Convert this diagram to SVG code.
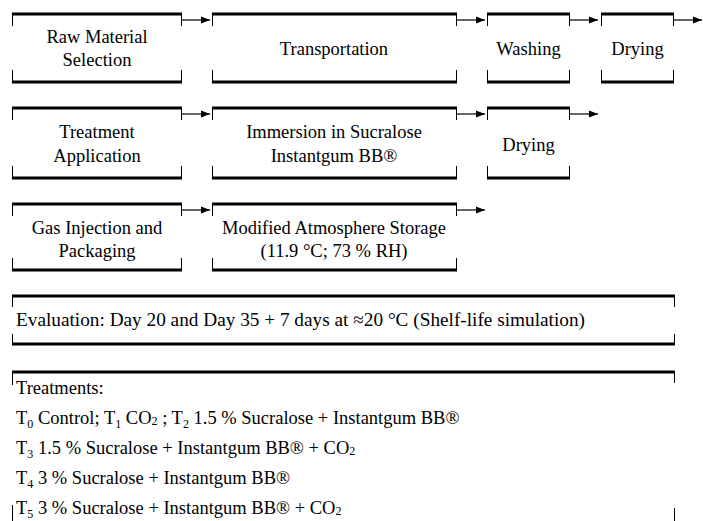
<svg xmlns="http://www.w3.org/2000/svg" width="703" height="521" viewBox="0 0 703 521">
<style>
.bg{fill:#fff}
.thick{stroke:#000;stroke-width:3;fill:none}
.tick{stroke:#000;stroke-width:1;fill:none}
.conn{stroke:#000;stroke-width:1.2;fill:none;marker-end:url(#ah)}
.t{font-family:'Liberation Serif','Times New Roman',serif;font-size:18.5px;fill:#000}
.c{text-anchor:middle}
.s{font-size:12px}
</style>
<defs>
<marker id="ah" markerUnits="userSpaceOnUse" markerWidth="9" markerHeight="8" refX="9" refY="4" orient="auto">
<path d="M0,0.5 L9,4 L0,7.5 z" fill="#000"/>
</marker>
</defs>
<rect class="bg" x="0" y="0" width="703" height="521"/>
<g id="n1">
<path class="thick" d="M12,14 H182 M12,82 H182"/>
<path class="tick" d="M12.5,14 V26 M181.5,14 V26 M12.5,70 V82 M181.5,70 V82"/>
<text class="t c" x="97" y="43">Raw Material</text>
<text class="t c" x="97" y="66">Selection</text>
</g>
<g id="n2">
<path class="thick" d="M212,14 H457 M212,82 H457"/>
<path class="tick" d="M212.5,14 V26 M456.5,14 V26 M212.5,70 V82 M456.5,70 V82"/>
<text class="t c" x="334" y="55">Transportation</text>
</g>
<g id="n3">
<path class="thick" d="M487,14 H570 M487,82 H570"/>
<path class="tick" d="M487.5,14 V26 M569.5,14 V26 M487.5,70 V82 M569.5,70 V82"/>
<text class="t c" x="528.5" y="55">Washing</text>
</g>
<g id="n4">
<path class="thick" d="M601,14 H674 M601,82 H674"/>
<path class="tick" d="M601.5,14 V26 M673.5,14 V26 M601.5,70 V82 M673.5,70 V82"/>
<text class="t c" x="637.5" y="55">Drying</text>
</g>

<g id="n5">
<path class="thick" d="M12,108 H182 M12,178 H182"/>
<path class="tick" d="M12.5,108 V120 M181.5,108 V120 M12.5,166 V178 M181.5,166 V178"/>
<text class="t c" x="97" y="138">Treatment</text>
<text class="t c" x="97" y="162">Application</text>
</g>
<g id="n6">
<path class="thick" d="M212,108 H457 M212,178 H457"/>
<path class="tick" d="M212.5,108 V120 M456.5,108 V120 M212.5,166 V178 M456.5,166 V178"/>
<text class="t c" x="334" y="138">Immersion in Sucralose</text>
<text class="t c" x="334" y="162">Instantgum BB®</text>
</g>
<g id="n7">
<path class="thick" d="M487,108 H570 M487,178 H570"/>
<path class="tick" d="M487.5,108 V120 M569.5,108 V120 M487.5,166 V178 M569.5,166 V178"/>
<text class="t c" x="528.5" y="151">Drying</text>
</g>

<g id="n8">
<path class="thick" d="M12,204 H182 M12,270 H182"/>
<path class="tick" d="M12.5,204 V216 M181.5,204 V216 M12.5,258 V270 M181.5,258 V270"/>
<text class="t c" x="97" y="234">Gas Injection and</text>
<text class="t c" x="97" y="257">Packaging</text>
</g>
<g id="n9">
<path class="thick" d="M212,204 H457 M212,270 H457"/>
<path class="tick" d="M212.5,204 V216 M456.5,204 V216 M212.5,258 V270 M456.5,258 V270"/>
<text class="t c" x="334" y="234">Modified Atmosphere Storage</text>
<text class="t c" x="334" y="257">(11.9 °C; 73 % RH)</text>
</g>

<g id="n10">
<path class="thick" d="M12,296 H675 M12,344 H675"/>
<path class="tick" d="M12.5,296 V307 M674.5,296 V307 M12.5,334 V344 M674.5,334 V344"/>
<text class="t" x="16" y="326" textLength="569" lengthAdjust="spacingAndGlyphs">Evaluation: Day 20 and Day 35 + 7 days at ≈20 °C (Shelf-life simulation)</text>
</g>

<g id="n11">
<path class="thick" d="M12,372 H675"/>
<path class="tick" d="M12.5,372 V385 M674.5,372 V383 M12.5,505 V521 M674.5,508 V521"/>
<text class="t" x="16" y="394">Treatments:</text>
<text class="t" x="16" y="424">T<tspan class="s" dy="4">0</tspan><tspan dy="-4"> Control; T</tspan><tspan class="s" dy="4">1</tspan><tspan dy="-4"> CO<tspan class="s" dy="1">2</tspan><tspan dy="-1"> ; T</tspan></tspan><tspan class="s" dy="4">2</tspan><tspan dy="-4"> 1.5 % Sucralose + Instantgum BB®</tspan></text>
<text class="t" x="16" y="454">T<tspan class="s" dy="4">3</tspan><tspan dy="-4"> 1.5 % Sucralose + Instantgum BB® + CO<tspan class="s" dy="1">2</tspan></tspan></text>
<text class="t" x="16" y="484">T<tspan class="s" dy="4">4</tspan><tspan dy="-4"> 3 % Sucralose + Instantgum BB®</tspan></text>
<text class="t" x="16" y="514">T<tspan class="s" dy="4">5</tspan><tspan dy="-4"> 3 % Sucralose + Instantgum BB® + CO<tspan class="s" dy="1">2</tspan></tspan></text>
</g>
<g id="connectors">
<line class="conn" x1="182" y1="20" x2="210" y2="20"/>
<line class="conn" x1="457" y1="20" x2="485" y2="20"/>
<line class="conn" x1="570" y1="20" x2="598" y2="20"/>
<line class="conn" x1="674" y1="20" x2="702" y2="20"/>
<line class="conn" x1="182" y1="114" x2="210" y2="114"/>
<line class="conn" x1="457" y1="114" x2="485" y2="114"/>
<line class="conn" x1="570" y1="114" x2="598" y2="114"/>
<line class="conn" x1="182" y1="210" x2="210" y2="210"/>
<line class="conn" x1="457" y1="210" x2="485" y2="210"/>
</g>
</svg>
